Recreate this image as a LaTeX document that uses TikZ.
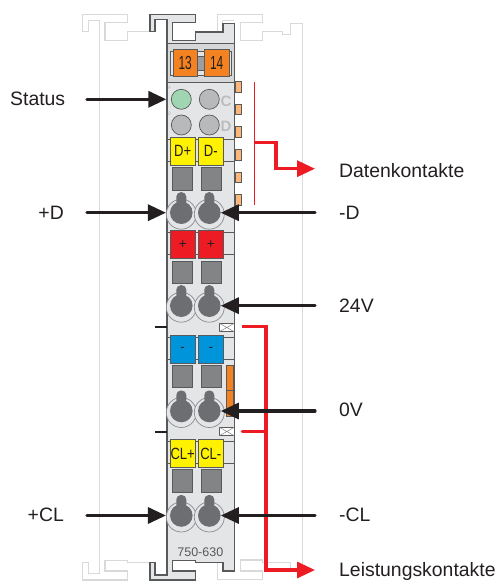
\documentclass[tikz,border=0pt]{standalone}
\usepackage{fontspec}
\usepackage{graphicx}
\setmainfont{Liberation Sans}
\usetikzlibrary{arrows.meta}
\definecolor{inkblack}{HTML}{231F20}
\definecolor{inkred}{HTML}{ED1C24}
\definecolor{edgegray}{HTML}{58595B}
\definecolor{housing}{HTML}{E4E5E7}
\definecolor{band}{HTML}{D6D7D9}
\definecolor{ghost}{HTML}{D9D9DA}
\definecolor{slotgray}{HTML}{6D6E71}
\definecolor{ledgray}{HTML}{B8B9BB}
\definecolor{ledgreen}{HTML}{9FD5B0}
\definecolor{lettergray}{HTML}{BCBDBF}
\definecolor{plugyellow}{HTML}{FFF200}
\definecolor{plugblue}{HTML}{0095DA}
\definecolor{plugorange}{HTML}{F58220}
\definecolor{tabpeach}{HTML}{FBB77A}
\newcommand{\narrow}[1]{\scalebox{.8}[1]{#1}}
\newcommand{\tall}[1]{\scalebox{.63}[1]{\fontsize{19}{19}\selectfont #1}}
\begin{document}
\begin{tikzpicture}[x=1pt,y=-1pt,>={Triangle[length=18pt,width=16pt]},
  txt/.style={inner sep=0pt,text=inkblack,font=\fontsize{19.4}{21}\selectfont},
  plug/.style={draw=edgegray,line width=.7pt,inner sep=0pt,minimum width=24.7pt,minimum height=28pt,text=inkblack,font=\fontsize{16.3}{16}\selectfont},
  slot/.style={draw=edgegray,line width=.7pt,fill=slotgray!85,inner sep=0pt,minimum width=20pt,minimum height=22.6pt},
  led/.style={circle,draw=edgegray,line width=.7pt,inner sep=0pt,minimum size=20pt},
  ring/.style={circle,draw=edgegray!70,line width=.7pt,fill=housing,inner sep=0pt,minimum size=30pt},
  core/.style={circle,fill=slotgray,inner sep=0pt,minimum size=22.6pt},
  neck/.style={rounded corners=4.5pt,fill=slotgray,inner sep=0pt,minimum width=10pt,minimum height=14pt},
  tab/.style={draw=edgegray,line width=.7pt,fill=tabpeach,inner sep=0pt,minimum width=6pt,minimum height=10.7pt},
  fuse/.style={draw=edgegray,line width=.6pt,fill=white,inner sep=0pt,minimum width=15pt,minimum height=8.4pt},
  sign/.style={font=\fontsize{13.5}{13}\selectfont},
  pointer/.style={->,line width=3.2pt,draw=inkblack,line cap=round},
  redline/.style={line width=3.2pt,draw=inkred,line cap=round},
  redarrow/.style={->,line width=3.2pt,draw=inkred}]
\useasboundingbox (0,0) rectangle (501,583);
% neighbouring modules
\draw[ghost,line width=1.2pt] (150,31.7)--(127.7,31.7)--(127.7,40.7)--(105,40.7)--(105,22.7)--(127.7,22.7)--(127.7,14.3)--(82.3,14.3)--(82.3,31.7)--(88.3,31.7)--(88.3,20.7)--(99.3,20.7)--(99.3,573.3)--(88.3,573.3)--(88.3,562.7)--(82.3,562.7)--(82.3,580)--(127.7,580)--(127.7,571)--(105,571)--(105,560.7)--(127.7,560.7)--(127.7,562.7)--(150,562.7);
\draw[ghost,line width=1.2pt] (234,20.7)--(222.7,20.7)--(222.7,31.7)--(217.7,31.7)--(217.7,14.3)--(262.7,14.3)--(262.7,22.7)--(240.7,22.7)--(240.7,40.7)--(262.7,40.7)--(262.7,31.7)--(282.3,31.7)--(282.3,34.3)--(290.7,34.3)--(290.7,23.3)--(302.3,23.3)--(302.3,568.3)--(290.7,568.3)--(290.7,562.3)--(262.7,562.3)--(262.7,560)--(240.7,560)--(240.7,571)--(262.7,571)--(262.7,579.3)--(217.7,579.3)--(217.7,562.7)--(234,562.7);
% housing
\foreach \ypos in {81.7,104,126.7,149.3,172,194.7}{
  \node[tab] at (238,\ypos+5.3) {};
}
\draw[edgegray,line width=1.1pt,fill=housing] (167,19.3)--(155,19.3)--(155,31.7)--(150,31.7)--(150,14.3)--(195.7,14.3)--(195.7,22.7)--(172.7,22.7)--(172.7,40.7)--(195.7,40.7)--(195.7,32)--(223,32)--(223,23.3)--(234.7,23.3)--(234.7,571)--(223,571)--(223,562.7)--(195.7,562.7)--(195.7,560.7)--(172.7,560.7)--(172.7,571)--(195.7,571)--(195.7,580)--(150,580)--(150,562.7)--(155,562.7)--(155,575)--(167,575)--cycle;
\node[draw=edgegray,line width=1.1pt,fill=band,inner sep=0pt,minimum width=67.7pt,minimum height=39.4pt] (wireband) at (200.85,63) {};
\node[draw=edgegray,line width=.6pt,fill=housing,inner sep=0pt,minimum width=61.7pt,minimum height=23.3pt] (strip) at (200.85,63.3) {};
\node[draw=edgegray,line width=.6pt,fill=ledgray!85!black,inner sep=0pt,minimum width=8pt,minimum height=14pt] (bridge) at (201,63) {};
\node[plug,fill=plugorange,minimum height=27.7pt] (wire13) at (185.2,62.8) {\tall{13}};
\node[plug,fill=plugorange,minimum height=27.7pt] (wire14) at (216.7,62.8) {\tall{14}};
% leds
\node[led,fill=ledgreen] (ledA) at (181.3,99.3) {};
\node[led,fill=ledgray] (ledC) at (209.3,99.3) {};
\node[led,fill=ledgray] (ledB) at (181.3,125) {};
\node[led,fill=ledgray] (ledD) at (209.3,125) {};
\node[inner sep=0pt,text=lettergray,font=\bfseries\fontsize{15}{15}\selectfont] (letC) at (226,101) {C};
\node[inner sep=0pt,text=lettergray,font=\bfseries\fontsize{15}{15}\selectfont] (letD) at (226,126.5) {D};
\node[inner sep=0pt,text=lettergray,font=\fontsize{5}{5}\selectfont] (letA) at (169.5,88) {A};
\node[inner sep=0pt,text=lettergray,font=\fontsize{5}{5}\selectfont] (letB) at (169.5,114) {B};
% contact rows
\foreach \ypos in {137.3,230.7,335,439.3}{
  \draw[edgegray,line width=.6pt] (167,\ypos+2)--(234.7,\ypos+2);
  \draw[edgegray,line width=.6pt] (167,\ypos+24)--(234.7,\ypos+24);
  \node[slot] at (182.7,\ypos+41.5) {};
  \node[slot] at (211,\ypos+41.5) {};
}
\node[plug,fill=plugyellow] (dplus) at (182.7,151.3) {\narrow{D+}};
\node[plug,fill=plugyellow] (dminus) at (210.8,151.3) {\narrow{D-}};
\node[plug,sign,fill=inkred] (pplus) at (182.7,244.8) {+};
\node[plug,sign,fill=inkred] (pplusb) at (210.8,244.8) {+};
\node[plug,sign,fill=plugblue] (pminus) at (182.7,349.1) {-};
\node[plug,sign,fill=plugblue] (pminusb) at (210.8,349.1) {-};
\node[plug,fill=plugyellow] (clplus) at (182.7,453.8) {\narrow{CL+}};
\node[plug,fill=plugyellow] (clminus) at (210.8,453.8) {\narrow{CL-}};
% fuse marks and jumper
\node[draw=edgegray,line width=.6pt,fill=plugorange,inner sep=0pt,minimum width=7pt,minimum height=25.6pt] (jumpera) at (230.2,377.8) {};
\node[draw=edgegray,line width=.6pt,fill=plugorange,inner sep=0pt,minimum width=7pt,minimum height=25.6pt] (jumperb) at (230.2,403) {};
\node[fuse] (fusea) at (226.8,327.5) {};
\node[fuse] (fuseb) at (226.8,431.5) {};
\draw[gray,line width=.5pt] (fusea.north west)--(fusea.south east) (fusea.south west)--(fusea.north east);
\draw[gray,line width=.5pt] (fuseb.north west)--(fuseb.south east) (fuseb.south west)--(fuseb.north east);
% screw openings
\foreach \n/\ypos in {D/212.7,P/305.7,M/411,L/515.5}{
  \node[ring] (ring\n a) at (181.3,\ypos+1.5) {};
  \node[ring] (ring\n b) at (209.3,\ypos+1.5) {};
  \node[neck] at (181.3,\ypos-13.5) {};
  \node[neck] at (209.3,\ypos-13.5) {};
  \node[core] (core\n a) at (181.3,\ypos) {};
  \node[core] (core\n b) at (209.3,\ypos) {};
}
\node[inner sep=0pt,text=edgegray,font=\fontsize{12.5}{13}\selectfont] (partno) at (200.3,551.7) {750-630};
% labels
\node[txt,anchor=west] (status) at (10,98.5) {Status};
\node[txt,anchor=east] (plusD) at (64,212.7) {+D};
\node[txt,anchor=east] (plusCL) at (64,515) {+CL};
\node[txt,anchor=west] (daten) at (339,170.5) {Datenkontakte};
\node[txt,anchor=west] (minusD) at (339,212.7) {-D};
\node[txt,anchor=west] (vplus) at (339,306) {24V};
\node[txt,anchor=west] (vzero) at (339,410) {0V};
\node[txt,anchor=west] (minusCL) at (339,515) {-CL};
\node[txt,anchor=west] (leistung) at (339,571.5) {Leistungskontakte};
% free ends
\coordinate (statusTail) at (87,99.3);
\coordinate (plusDTail) at (87,212.7);
\coordinate (plusCLTail) at (87,515.5);
\coordinate (minusDTail) at (315,212.7);
\coordinate (vplusTail) at (315,305.7);
\coordinate (vzeroTail) at (315,411);
\coordinate (minusCLTail) at (315,515.5);
\coordinate (datTop) at (254.3,82.3);
\coordinate (datEnd) at (254.3,205);
\coordinate (datBar) at (254.3,142.7);
\coordinate (datKnee) at (276,168.7);
\coordinate (datTip) at (315,168.7);
\coordinate (lksTop) at (242.3,326.7);
\coordinate (lksMid) at (242.3,431.7);
\coordinate (lksJoin) at (266,431.7);
\coordinate (lksKnee) at (266,570);
\coordinate (lksTip) at (315,570);
\coordinate (dashaL) at (155,326.7);
\coordinate (dashaR) at (167,326.7);
\coordinate (dashbL) at (155,431.7);
\coordinate (dashbR) at (167,431.7);
% red connectors
\draw[inkred,line width=1.3pt] (datTop)--(datEnd);
\draw[redarrow] (datBar) -| (datKnee) -- (datTip);
\draw[redline] (lksMid)--(lksJoin);
\draw[redarrow] (lksTop) -| (lksKnee) -- (lksTip);
% black connectors
\draw[inkblack,line width=1.8pt] (dashaL)--(dashaR);
\draw[inkblack,line width=1.8pt] (dashbL)--(dashbR);
\draw[pointer,shorten >=4.6pt] (statusTail)--(ledA);
\draw[pointer] (plusDTail)--(ringDa.west |- coreDa);
\draw[pointer] (plusCLTail)--(ringLa.west |- coreLa);
\draw[pointer] (minusDTail)--(coreDb);
\draw[pointer] (vplusTail)--(corePb);
\draw[pointer] (vzeroTail)--(coreMb);
\draw[pointer] (minusCLTail)--(coreLb);
\end{tikzpicture}
\end{document}
